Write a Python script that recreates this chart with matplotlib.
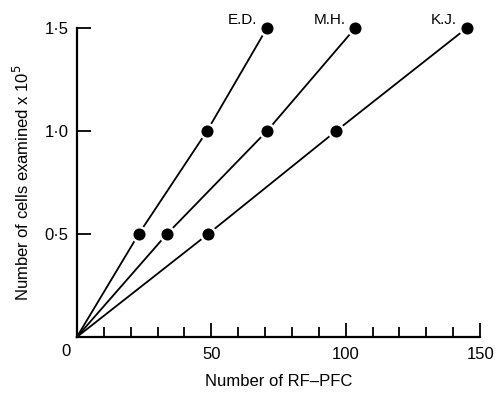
import numpy as np
import matplotlib.pyplot as plt

plt.rcParams['font.family'] = ['Liberation Sans', 'DejaVu Sans']

cells = [0.0, 0.5, 1.0, 1.5]
ed_pfc = [0.0, 23, 48.4, 70.7]
mh_pfc = [0.0, 33.5, 70.7, 103.5]
kj_pfc = [0.0, 48.8, 96.4, 145]
names = ["E.D.", "M.H.", "K.J."]

fig = plt.figure(figsize=(4.96, 3.93), dpi=100)
ax = fig.add_axes([0.155, 0.1425, 0.813, 0.786])

for xs, name in zip([ed_pfc, mh_pfc, kj_pfc], names):
    ax.plot(xs, cells, color="black", lw=1.3, zorder=2, clip_on=False)
    ax.plot(xs[1:], cells[1:], "o", ms=10.5, color="black", mec="white", mew=1.8,
            zorder=3, clip_on=False)
    ax.annotate(name, (xs[-1], cells[-1]), xytext=(-7, 1), textcoords="offset points",
                ha="right", va="bottom", fontsize=11)

ax.set_xlim(0, 150)
ax.set_ylim(0, 1.5)
for s in ["top", "right"]:
    ax.spines[s].set_visible(False)
for s in ["left", "bottom"]:
    ax.spines[s].set_linewidth(1.6)

ax.set_xticks([0, 50, 100, 150])
ax.set_xticklabels(["", "50", "100", "150"])
ax.set_xticks(np.arange(10, 150, 10), minor=True)
ax.set_yticks([0.5, 1.0, 1.5])
ax.set_yticklabels(["0\u00b75", "1\u00b70", "1\u00b75"])
ax.tick_params(axis="x", which="major", direction="in", length=10, width=1.3,
               labelsize=12, pad=7)
ax.tick_params(axis="x", which="minor", direction="in", length=7, width=1.3)
ax.tick_params(axis="y", which="major", direction="in", length=10, width=1.3,
               labelsize=12, pad=6)
ax.text(-4, -0.035, "0", fontsize=12, ha="center", va="top")

ax.set_xlabel("Number of RF\u2013PFC", fontsize=12, labelpad=9)
ax.set_ylabel("Number of cells examined x 10$^5$", fontsize=12, labelpad=9)

fig.savefig("out.png", dpi=100)
